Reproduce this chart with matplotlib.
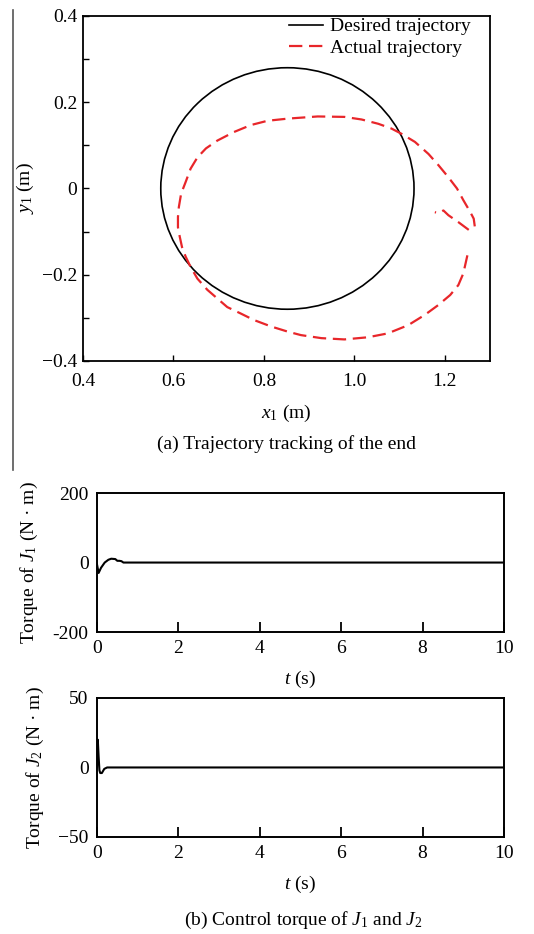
import numpy as np
import matplotlib.pyplot as plt
from matplotlib.lines import Line2D
from matplotlib.patches import Ellipse
from matplotlib.ticker import MultipleLocator

plt.rcParams['font.family'] = ['Liberation Serif', 'DejaVu Serif']
plt.rcParams['mathtext.fontset'] = 'custom'
plt.rcParams['mathtext.rm'] = 'Liberation Serif'
plt.rcParams['mathtext.it'] = 'Liberation Serif:italic'
plt.rcParams['font.size'] = 14
plt.rcParams['axes.unicode_minus'] = True

# desired trajectory: circle
circle_center = (0.852, 0.0)
circle_radius = 0.28

# actual trajectory
actual_x = [1.250, 1.241, 1.230, 1.212, 1.186, 1.156, 1.119, 1.074, 1.030, 0.978,
            0.927, 0.882, 0.853, 0.816, 0.778, 0.749, 0.719, 0.697, 0.675, 0.653,
            0.638, 0.627, 0.619, 0.614, 0.610, 0.610, 0.612, 0.617, 0.627, 0.638,
            0.653, 0.672, 0.697, 0.734, 0.771, 0.808, 0.853, 0.919, 0.978, 1.016,
            1.053, 1.082, 1.104, 1.134, 1.164, 1.186, 1.208, 1.227, 1.241, 1.256,
            1.264, 1.267]
actual_y = [-0.155, -0.197, -0.224, -0.247, -0.270, -0.293, -0.317, -0.336, -0.345, -0.350,
            -0.347, -0.340, -0.332, -0.320, -0.305, -0.290, -0.275, -0.255, -0.235, -0.209,
            -0.182, -0.158, -0.136, -0.112, -0.090, -0.066, -0.043, -0.012, 0.015, 0.046,
            0.072, 0.093, 0.111, 0.131, 0.147, 0.157, 0.162, 0.167, 0.166, 0.160,
            0.150, 0.139, 0.127, 0.108, 0.080, 0.054, 0.026, 0.000, -0.027, -0.054,
            -0.070, -0.093]
tail_x = [1.253, 1.230, 1.208, 1.197, 1.186, 1.178]
tail_y = [-0.096, -0.078, -0.062, -0.051, -0.057, -0.055]

# control torques
t1 = [0, 0.04, 0.10, 0.19, 0.28, 0.35, 0.45, 0.50, 0.55, 0.60, 0.65, 10]
tau1 = [-5, -30, -15, 0, 8, 11, 10, 5, 5, 4, 0, 0]
t2 = [0, 0.01, 0.02, 0.04, 0.06, 0.08, 0.12, 0.18, 0.25, 10]
tau2 = [0, 18, 20, 8, -2, -4, -4, -1, 0, 0]

red = '#e8262a'

fig = plt.figure(figsize=(5.34, 9.34), dpi=100)

# ---- (a) trajectory
ax = fig.add_axes([0.1554, 0.6135, 0.7622, 0.3694])
ax.add_patch(Ellipse(circle_center, 2 * circle_radius, 2 * circle_radius,
                     fill=False, ec='black', lw=1.2))
ax.plot(actual_x, actual_y, color=red, lw=1.6, dashes=(6, 3))
ax.plot(tail_x, tail_y, color=red, lw=1.6, dashes=(6, 3))
ax.set_xlim(0.4, 1.3)
ax.set_ylim(-0.4, 0.4)
ax.set_xticks([0.4, 0.6, 0.8, 1.0, 1.2])
ax.set_xticklabels(['0.4', '0.6', '0.8', '1.0', '1.2'])
ax.set_yticks([-0.4, -0.2, 0, 0.2, 0.4])
ax.set_yticklabels(['\u22120.4', '\u22120.2', '0', '0.2', '0.4'])
ax.yaxis.set_minor_locator(MultipleLocator(0.1))
ax.tick_params(direction='in', length=4, width=1)
ax.tick_params(axis='x', pad=9)
ax.tick_params(axis='y', pad=4)
ax.tick_params(which='minor', direction='in', length=4, width=1)
ax.set_xlabel('$x_1$ (m)', labelpad=9)
ax.set_ylabel('$y_1$ (m)', labelpad=4)
for s in ax.spines.values():
    s.set_linewidth(1.3)
handles = [Line2D([], [], color='black', lw=1.2),
           Line2D([], [], color=red, lw=1.6, dashes=(6, 3))]
ax.legend(handles, ['Desired trajectory', 'Actual trajectory'], loc='upper left',
          bbox_to_anchor=(0.505, 0.995), frameon=False, handlelength=1.75,
          handletextpad=0.4, borderpad=0, borderaxespad=0, labelspacing=0.2)
fig.text(0.537, 1 - 444 / 934, '(a) Trajectory tracking of the end',
         ha='center', va='center')

# left margin rule
fig.add_artist(Line2D([13 / 534, 13 / 534], [1 - 10 / 934, 1 - 470 / 934],
                      color='#555555', lw=1.2))

# ---- (b) torques
def torque_axes(rect, t, tau, lim, label):
    a = fig.add_axes(rect)
    a.plot(t, tau, color='black', lw=1.5)
    a.set_xlim(0, 10)
    a.set_ylim(-lim, lim)
    a.set_xticks([0, 2, 4, 6, 8, 10])
    a.set_yticks([-lim, 0, lim])
    a.set_yticklabels(['\u2212%d' % lim if lim == 50 else '-%d' % lim, '0', '%d' % lim])
    a.tick_params(axis='x', direction='in', length=7, width=1.3, pad=6)
    a.tick_params(axis='y', direction='in', length=0, pad=6)
    a.set_xlabel('$t$ (s)', labelpad=8)
    a.set_ylabel(label, labelpad=9)
    for s in a.spines.values():
        s.set_linewidth(1.4)
    return a

torque_axes([0.1816, 0.3233, 0.7622, 0.1488], t1, tau1, 200,
            'Torque of $J_1$ (N \u00b7 m)')
torque_axes([0.1816, 0.1039, 0.7622, 0.1488], t2, tau2, 50,
            'Torque of $J_2$ (N \u00b7 m)')
fig.text(0.567, 1 - 920 / 934, '(b) Control torque of $J_1$ and $J_2$',
         ha='center', va='center')

fig.savefig('out.png', dpi=100)
